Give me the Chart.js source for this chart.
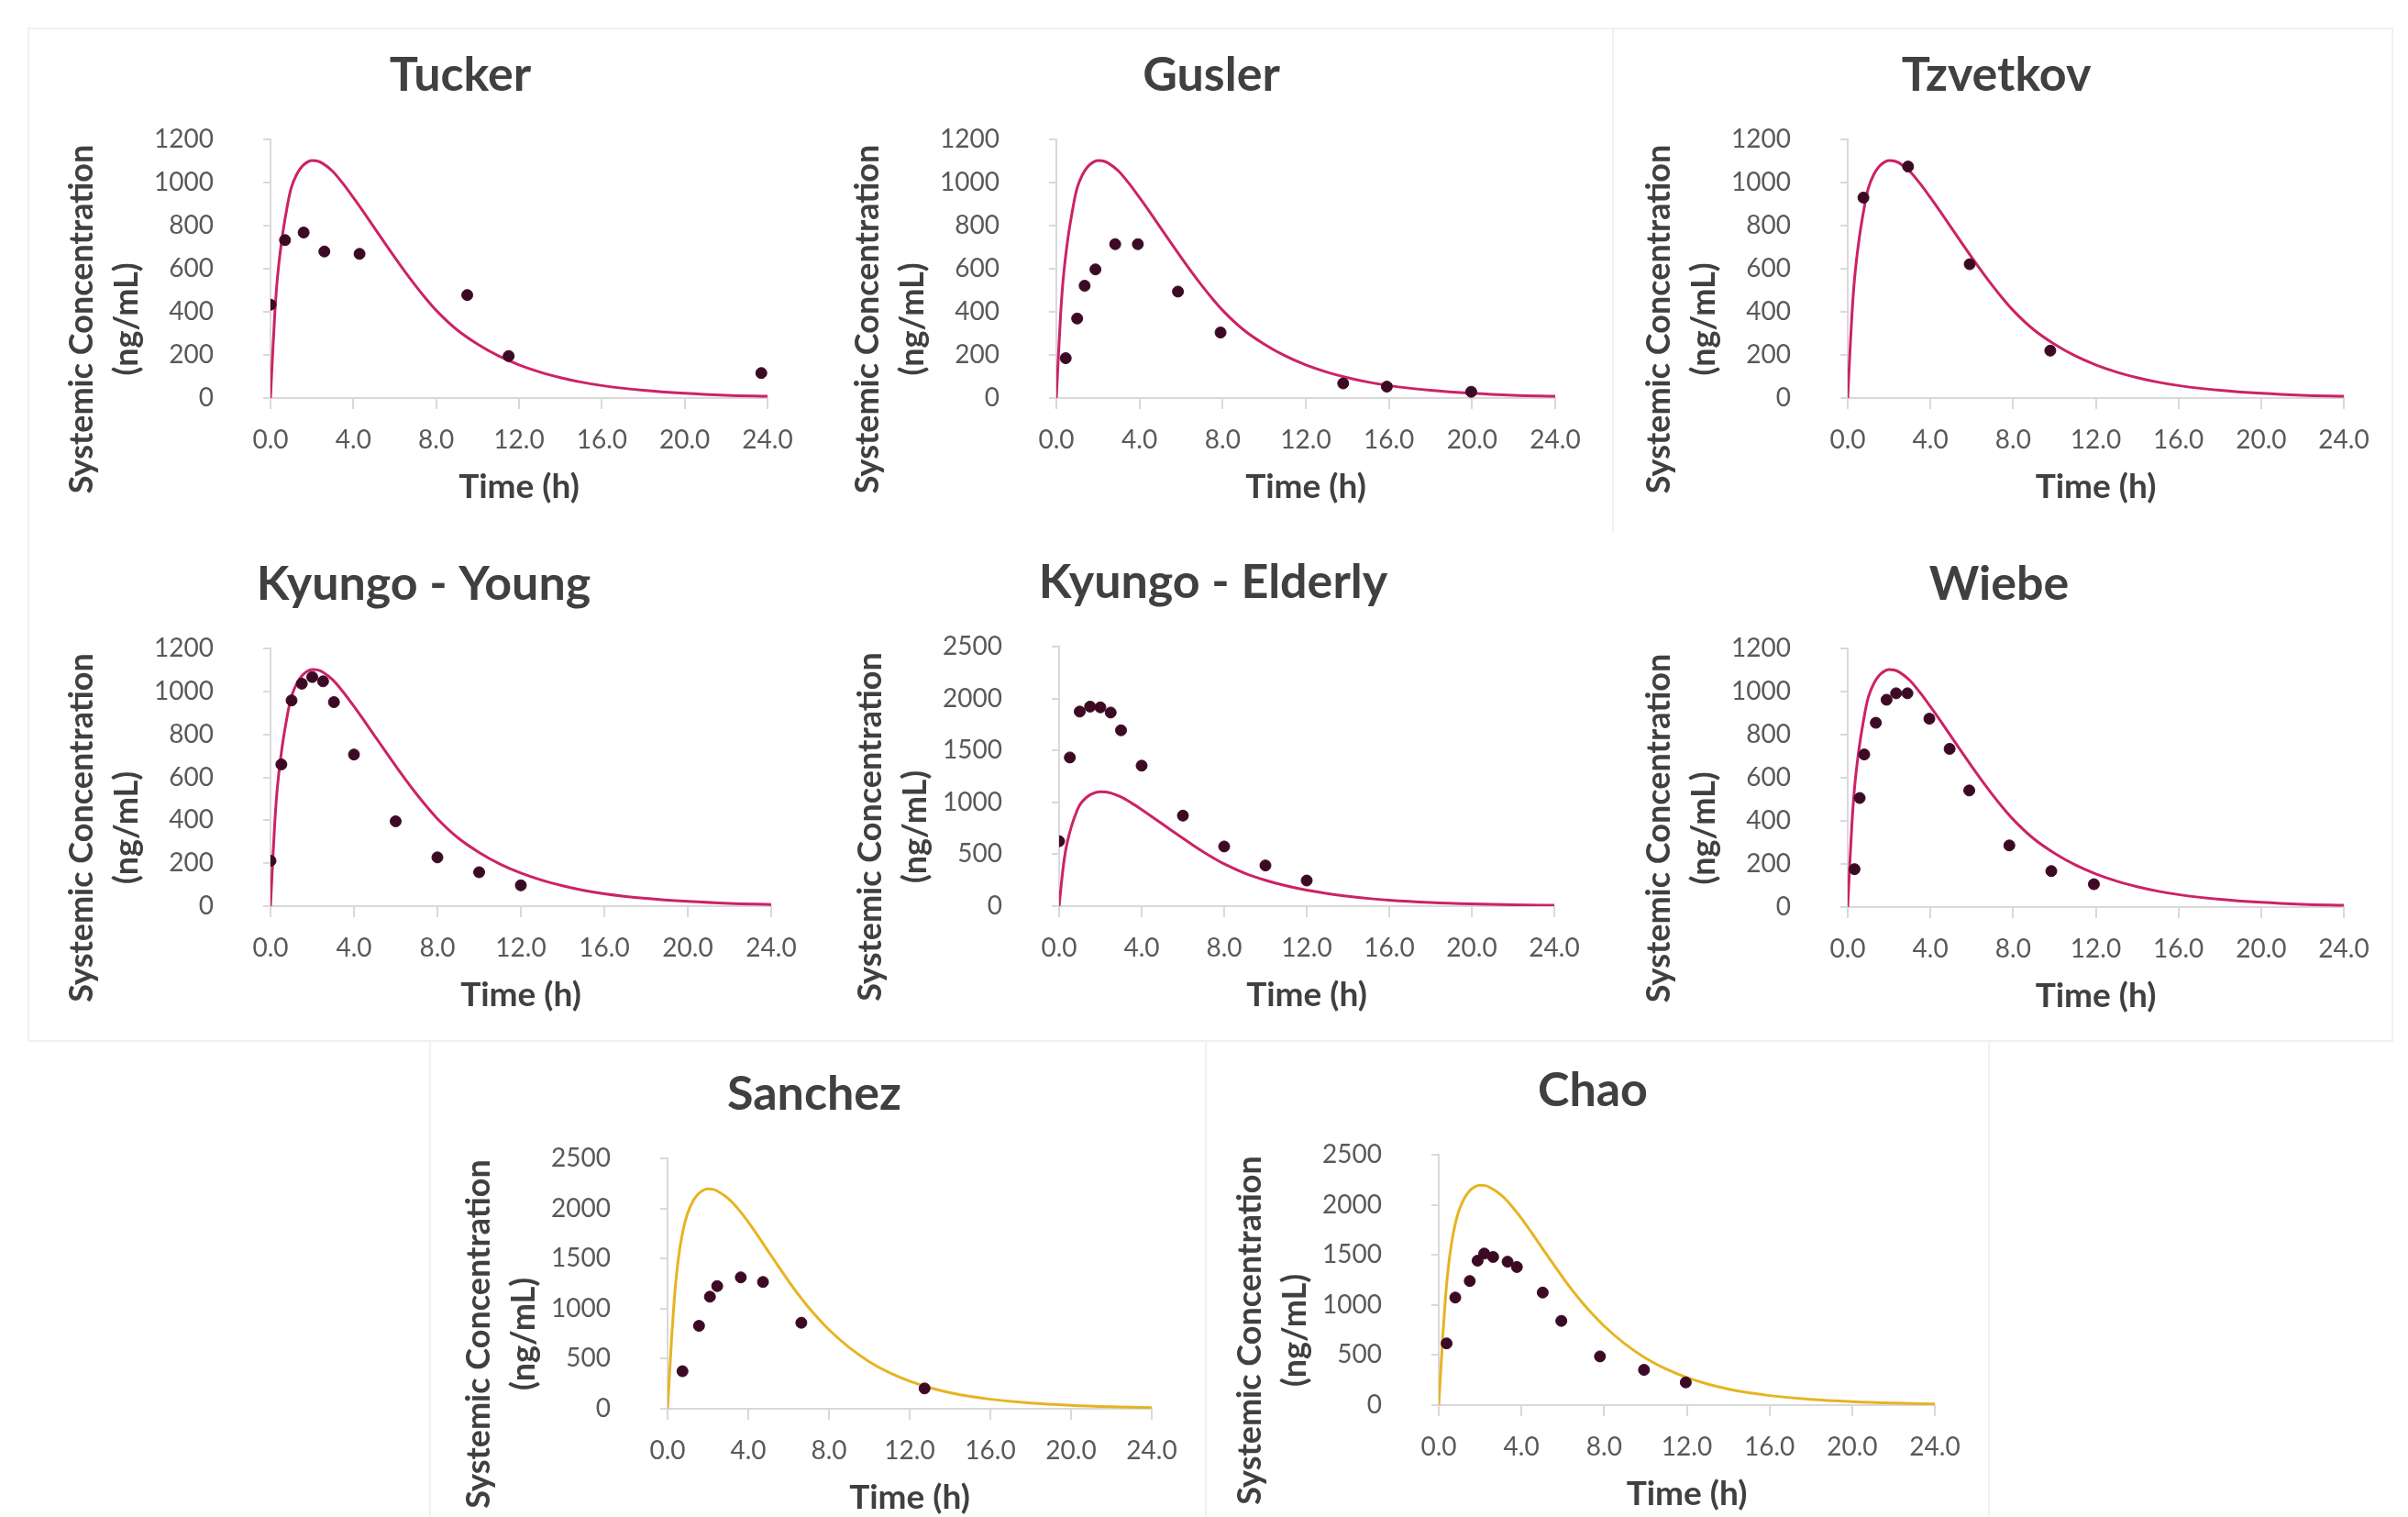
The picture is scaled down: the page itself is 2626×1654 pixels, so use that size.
<!DOCTYPE html>
<html>
<head>
<meta charset="utf-8">
<script src="https://cdn.jsdelivr.net/npm/chart.js@4.4.1/dist/chart.umd.min.js"></script>
<style>
  body { margin: 0; background: #fff; width: 2626px; height: 1654px; position: relative; overflow: hidden; }
  canvas { position: absolute; }
  .frame { position: absolute; border: 2px solid #f1f1f1; box-sizing: border-box; }
</style>
</head>
<body>
<div class="frame" style="left:30px;top:30px;width:2580px;height:1106px;"></div>
<div class="frame" style="left:1758px;top:30px;width:2px;height:550px;border-width:0 0 0 2px;"></div>
<div class="frame" style="left:468px;top:1134px;width:848px;height:540px;"></div>
<div class="frame" style="left:1314px;top:1134px;width:856px;height:540px;"></div>
<script>
// simulated profiles
const simTime = [0, 0.1, 0.2, 0.3, 0.4, 0.5, 0.6, 0.7, 0.8, 0.9, 1, 1.25, 1.5, 1.75, 2, 2.25, 2.5, 3, 3.5, 4, 4.5, 5, 5.5, 6, 6.5, 7, 7.5, 8, 9, 10, 11, 12, 13, 14, 15, 16, 18, 20, 22, 24];
const simPink = [0, 200, 380, 520, 620, 700, 770, 830, 885, 935, 975, 1035, 1072, 1093, 1102, 1100, 1090, 1052, 995, 930, 862, 792, 722, 653, 586, 522, 462, 407, 317, 250, 196, 154, 121, 95, 74, 58, 36, 22, 13, 8];
const simYellow = [0, 350, 700, 1000, 1250, 1440, 1590, 1710, 1810, 1890, 1955, 2070, 2140, 2180, 2195, 2192, 2170, 2100, 1995, 1865, 1720, 1570, 1420, 1275, 1137, 1010, 895, 790, 612, 470, 360, 276, 211, 161, 123, 95, 57, 35, 21, 12];

// observed data
const tuckerTime = [0, 0.7, 1.6, 2.6, 4.3, 9.5, 11.5, 23.7];
const tuckerConc = [433, 733, 768, 680, 669, 478, 195, 116];
const guslerTime = [0.45, 1.0, 1.36, 1.88, 2.83, 3.92, 5.85, 7.9, 13.8, 15.9, 19.96];
const guslerConc = [185, 369, 521, 597, 714, 714, 494, 304, 68, 53, 29];
const tzvetkovTime = [0.76, 2.92, 5.9, 9.8];
const tzvetkovConc = [930, 1074, 621, 220];
const youngTime = [0, 0.52, 1.01, 1.5, 2.0, 2.52, 3.04, 4.0, 6.0, 8.0, 10.0, 12.0];
const youngConc = [211, 660, 958, 1036, 1067, 1047, 950, 706, 395, 227, 158, 97];
const elderlyTime = [0, 0.52, 1.0, 1.5, 2.0, 2.5, 3.0, 4.0, 6.0, 8.0, 10.0, 12.0];
const elderlyConc = [626, 1432, 1874, 1922, 1915, 1865, 1694, 1353, 872, 575, 392, 247];
const wiebeTime = [0.33, 0.58, 0.8, 1.36, 1.88, 2.34, 2.89, 3.95, 4.93, 5.88, 7.82, 9.85, 11.91];
const wiebeConc = [176, 506, 708, 855, 962, 992, 992, 874, 734, 541, 286, 167, 106];
const sanchezTime = [0.74, 1.56, 2.1, 2.46, 3.63, 4.73, 6.63, 12.74];
const sanchezConc = [375, 828, 1119, 1225, 1312, 1266, 859, 203];
const chaoTime = [0.38, 0.8, 1.5, 1.88, 2.2, 2.63, 3.33, 3.78, 5.03, 5.93, 7.8, 9.93, 11.95];
const chaoConc = [616, 1074, 1239, 1442, 1513, 1479, 1432, 1379, 1124, 841, 486, 352, 227];

const xTicks = [0, 4, 8, 12, 16, 20, 24];

const PINK = '#cc2266';
const YELLOW = '#e6b422';
const DOT = '#3c0a25';

// plot area boxes in page px
const panels = [
  { title: 'Tucker', titleX: 207, box: [295, 152, 837, 434], t: tuckerTime, c: tuckerConc, yMax: 1200, yStep: 200, high: false },
  { title: 'Gusler', titleX: 169, box: [1152, 152, 1696, 434], t: guslerTime, c: guslerConc, yMax: 1200, yStep: 200, high: false },
  { title: 'Tzvetkov', titleX: 162, box: [2015, 152, 2556, 434], t: tzvetkovTime, c: tzvetkovConc, yMax: 1200, yStep: 200, high: false },
  { title: 'Kyungo - Young', titleX: 167, box: [295, 707, 841, 988], t: youngTime, c: youngConc, yMax: 1200, yStep: 200, high: false },
  { title: 'Kyungo - Elderly', titleX: 168, box: [1155, 705, 1695, 988], t: elderlyTime, c: elderlyConc, yMax: 2500, yStep: 500, high: false },
  { title: 'Wiebe', titleX: 165, box: [2015, 707, 2556, 989], t: wiebeTime, c: wiebeConc, yMax: 1200, yStep: 200, high: false },
  { title: 'Sanchez', titleX: 160, box: [728, 1263, 1256, 1536], t: sanchezTime, c: sanchezConc, yMax: 2500, yStep: 500, high: true },
  { title: 'Chao', titleX: 168, box: [1569, 1259, 2110, 1532], t: chaoTime, c: chaoConc, yMax: 2500, yStep: 500, high: true }
];

const panelText = {
  id: 'panelText',
  afterDraw(chart, args, opts) {
    const { ctx, chartArea: a } = chart;
    ctx.save();
    ctx.fillStyle = '#404040';
    ctx.textAlign = 'center';
    ctx.textBaseline = 'middle';
    ctx.font = 'bold 52px Lato';
    ctx.fillText(opts.title, a.left + opts.titleX, a.top - 70);
    ctx.font = 'bold 37px Lato';
    ctx.fillText('Time (h)', (a.left + a.right) / 2, a.bottom + 97);
    ctx.font = 'bold 36px Lato';
    const cy = (a.top + a.bottom) / 2 + 55;
    [['Systemic Concentration', -206], ['(ng/mL)', -157]].forEach(([txt, dx]) => {
      ctx.save();
      ctx.translate(a.left + dx, cy);
      ctx.rotate(-Math.PI / 2);
      ctx.fillText(txt, 0, 0);
      ctx.restore();
    });
    ctx.restore();
  }
};

const axisGrey = '#d9d9d9';

panels.forEach(p => {
  const [l, t, r, b] = p.box;
  const cv = document.createElement('canvas');
  cv.width = (r - l) + 350;
  cv.height = (b - t) + 280;
  cv.style.left = (l - 290) + 'px';
  cv.style.top = (t - 150) + 'px';
  document.body.appendChild(cv);

  const simC = p.high ? simYellow : simPink;

  new Chart(cv, {
    type: 'scatter',
    data: {
      datasets: [
        {
          data: simTime.map((x, i) => ({ x: x, y: simC[i] })),
          showLine: true,
          borderColor: p.high ? YELLOW : PINK,
          borderWidth: 3,
          pointRadius: 0,
          cubicInterpolationMode: 'monotone',
          order: 2
        },
        {
          data: p.t.map((x, i) => ({ x: x, y: p.c[i] })),
          backgroundColor: DOT,
          borderColor: DOT,
          pointRadius: 6,
          order: 1
        }
      ]
    },
    options: {
      responsive: false,
      animation: false,
      events: [],
      layout: { padding: { top: 150, right: 60, left: 0, bottom: 0 } },
      plugins: {
        legend: { display: false },
        tooltip: { enabled: false },
        panelText: { title: p.title, titleX: p.titleX }
      },
      scales: {
        x: {
          type: 'linear',
          min: 0,
          max: 24,
          afterFit: s => { s.height = 130; },
          afterBuildTicks: s => { s.ticks = xTicks.map(v => ({ value: v })); },
          ticks: {
            callback: v => v.toFixed(1),
            font: { family: 'Lato', size: 28 },
            color: '#595959',
            padding: 17,
            maxRotation: 0
          },
          grid: { drawOnChartArea: false, color: axisGrey, lineWidth: 2, tickLength: 12 },
          border: { color: axisGrey, width: 2 }
        },
        y: {
          min: 0,
          max: p.yMax,
          afterFit: s => { s.width = 290; },
          ticks: {
            stepSize: p.yStep,
            callback: v => String(v),
            font: { family: 'Lato', size: 28 },
            color: '#595959',
            padding: 54
          },
          grid: { drawOnChartArea: false, color: axisGrey, lineWidth: 2, tickLength: 8 },
          border: { color: axisGrey, width: 2 }
        }
      }
    },
    plugins: [panelText]
  });
});
</script>
</body>
</html>
